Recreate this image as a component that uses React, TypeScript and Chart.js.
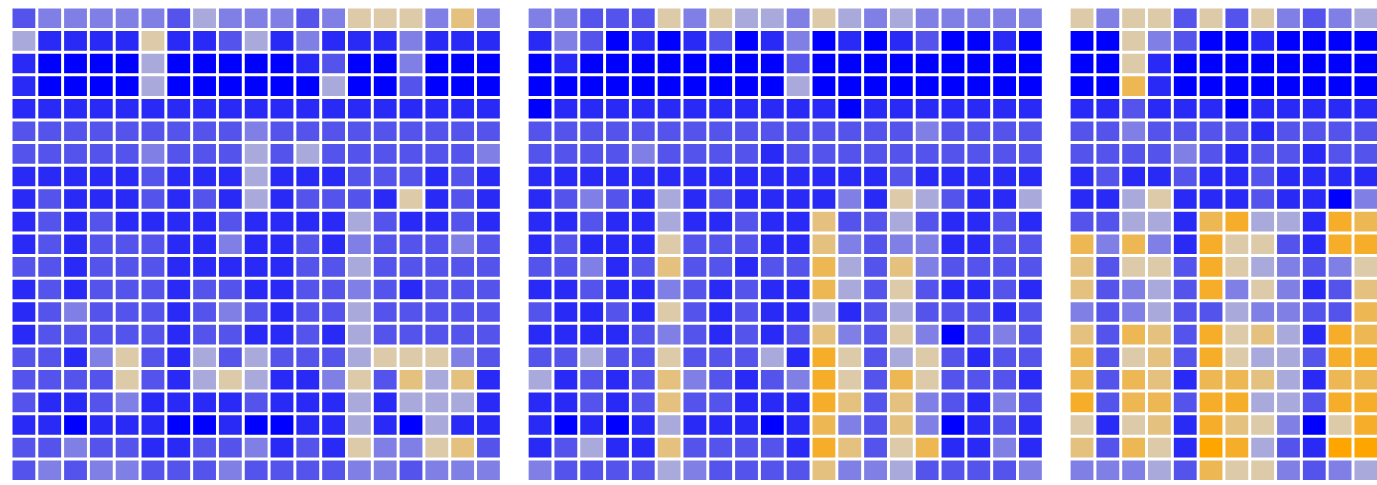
import { useEffect, useRef } from "react";
import { Chart, registerables } from "chart.js";

Chart.register(...registerables);

// Cell values on a diverging scale: -5 = blue, 0 = light grey, +5 = orange
const leftPanel: number[][] = [
  [-3, -2, -2, -2, -2, -2, -3, -1, -2, -2, -2, -3, -2, 1, 1, 1, -2, 2, -2],
  [-1, -4, -4, -4, -4, 1, -4, -4, -3, -1, -4, -2, -4, -4, -4, -2, -4, -4, -4],
  [-4, -5, -5, -5, -5, -1, -5, -5, -5, -5, -5, -4, -3, -5, -5, -2, -5, -5, -5],
  [-4, -5, -5, -5, -5, -1, -5, -5, -5, -5, -5, -5, -1, -5, -5, -3, -5, -5, -5],
  [-4, -4, -4, -4, -4, -4, -4, -4, -4, -4, -4, -4, -4, -4, -4, -4, -4, -4, -4],
  [-3, -3, -3, -3, -3, -3, -3, -3, -3, -2, -3, -3, -3, -3, -3, -3, -3, -3, -3],
  [-3, -3, -3, -3, -3, -2, -3, -3, -3, -1, -3, -1, -3, -3, -3, -3, -3, -3, -2],
  [-4, -4, -4, -4, -4, -3, -4, -4, -4, -1, -4, -4, -4, -3, -3, -3, -4, -3, -4],
  [-4, -3, -4, -4, -4, -3, -4, -3, -4, -1, -4, -3, -3, -3, -4, 1, -4, -3, -4],
  [-4, -3, -4, -3, -4, -4, -4, -4, -3, -4, -4, -4, -4, -1, -3, -4, -4, -3, -4],
  [-4, -3, -4, -3, -3, -3, -4, -4, -2, -4, -4, -3, -4, -2, -3, -3, -3, -2, -3],
  [-3, -3, -4, -3, -3, -3, -4, -4, -4, -4, -4, -3, -3, -1, -3, -3, -3, -3, -3],
  [-4, -3, -4, -3, -3, -3, -4, -3, -3, -4, -4, -3, -3, -2, -3, -4, -3, -3, -3],
  [-4, -3, -2, -3, -3, -3, -4, -3, -2, -3, -4, -3, -3, -1, -3, -3, -3, -3, -3],
  [-4, -3, -3, -3, -3, -3, -4, -3, -3, -4, -4, -3, -4, -1, -3, -3, -3, -3, -3],
  [-3, -3, -4, -2, 1, -3, -4, -1, -3, -1, -3, -3, -3, -1, 1, 1, 1, -2, -3],
  [-3, -3, -3, -3, 1, -3, -4, -1, 1, -1, -4, -4, -2, 1, -3, 2, -1, 2, -4],
  [-3, -4, -4, -3, -2, -4, -4, -4, -4, -3, -4, -4, -4, -1, -4, -1, -1, -1, -4],
  [-4, -4, -5, -4, -4, -4, -5, -5, -4, -5, -5, -4, -4, -1, -4, -5, -1, -4, -4],
  [-3, -3, -2, -3, -3, -4, -4, -3, -3, -2, -4, -3, -4, 1, -2, -2, 1, 2, -3],
  [-3, -2, -3, -2, -2, -3, -3, -3, -2, -3, -3, -3, -3, -2, -2, -3, -2, -2, -2],
];

const middlePanel: number[][] = [
  [-2, -2, -3, -3, -3, 1, -2, 1, -1, -1, -2, 1, -1, -2, -1, -2, -2, -2, -2, -2],
  [-4, -2, -3, -5, -4, -5, -4, -3, -5, -4, -2, -5, -4, -5, -4, -3, -5, -5, -4, -5],
  [-5, -4, -5, -5, -5, -5, -5, -5, -5, -5, -3, -5, -5, -5, -5, -5, -5, -5, -5, -5],
  [-5, -5, -5, -5, -5, -5, -5, -5, -5, -5, -1, -5, -5, -5, -5, -5, -5, -5, -5, -5],
  [-5, -4, -4, -4, -4, -4, -4, -4, -4, -4, -4, -4, -5, -4, -4, -4, -4, -4, -4, -4],
  [-3, -3, -3, -3, -3, -3, -3, -3, -3, -3, -3, -3, -3, -3, -3, -2, -3, -3, -3, -3],
  [-3, -3, -3, -3, -2, -3, -3, -3, -3, -4, -3, -3, -3, -3, -3, -3, -3, -3, -3, -3],
  [-4, -4, -4, -4, -4, -4, -4, -4, -4, -4, -4, -4, -4, -4, -3, -4, -4, -4, -4, -4],
  [-4, -3, -2, -3, -4, -1, -4, -3, -4, -4, -4, -4, -2, -4, 1, -1, -3, -4, -4, -1],
  [-4, -4, -3, -4, -4, -1, -4, -4, -3, -4, -4, 2, -3, -3, -1, -3, -4, -4, -3, -4],
  [-4, -3, -4, -4, -4, 1, -3, -3, -3, -4, -4, 2, -2, -3, -2, -2, -4, -4, -3, -3],
  [-3, -3, -2, -4, -3, 2, -3, -3, -4, -3, -3, 3, -1, -3, 2, -2, -3, -3, -3, -3],
  [-4, -4, -3, -4, -4, -2, -3, -4, -3, -4, -4, 3, -1, -3, 1, -3, -4, -4, -3, -4],
  [-3, -4, -4, -3, -4, 1, -3, -4, -3, -4, -4, -1, -4, -3, -1, -3, -3, -3, -4, -3],
  [-4, -4, -4, -4, -3, -2, -3, -4, -3, -4, -3, 2, -2, -3, 1, -2, -5, -3, -2, -3],
  [-3, -3, -1, -3, -3, 1, -3, -3, -3, -1, -4, 4, 1, -3, -1, 1, -3, -4, -3, -3],
  [-1, -4, -3, -4, -3, 2, -2, -3, -4, -3, -2, 4, 1, -3, 3, 1, -3, -3, -3, -4],
  [-4, -4, -3, -4, -3, 2, -3, -3, -4, -4, -4, 4, 2, -3, 2, -2, -3, -4, -2, -3],
  [-4, -5, -4, -5, -4, -1, -4, -4, -4, -5, -4, 3, -2, -3, 2, -2, -5, -4, -3, -4],
  [-4, -3, -1, -4, -4, 2, -3, -3, -3, -3, -4, 4, 2, -3, 1, 3, -4, -4, -2, -4],
  [-2, -3, -3, -3, -3, -1, -2, -3, -3, -3, -3, 2, -2, -2, -1, -3, -3, -3, -3, -2],
];

const rightPanel: number[][] = [
  [1, -2, 1, 1, -3, 1, -3, 1, -2, -3, -2, -1],
  [-5, -5, 1, -2, -3, -5, -5, -4, -5, -5, -5, -5],
  [-5, -5, 1, -4, -5, -5, -5, -5, -5, -5, -5, -5],
  [-5, -5, 3, -4, -5, -5, -5, -5, -5, -5, -5, -5],
  [-4, -4, -3, -4, -4, -4, -5, -4, -4, -4, -4, -4],
  [-3, -3, -2, -3, -3, -3, -3, -4, -3, -3, -3, -3],
  [-3, -3, -3, -3, -2, -3, -4, -3, -3, -4, -3, -3],
  [-4, -3, -4, -4, -3, -4, -4, -3, -4, -4, -4, -4],
  [-4, -4, -1, 1, -4, -4, -4, -3, -4, -4, -5, -2],
  [-3, -3, -1, -1, -4, 3, 4, -1, -1, -4, 4, 3],
  [3, -2, 3, -2, -4, 4, 1, 1, -3, -4, 4, 4],
  [2, -3, 1, 1, -3, 4, 1, -1, -2, -3, -2, 1],
  [2, -3, -2, -1, -3, 4, -2, 1, -2, -4, -3, 2],
  [-2, -3, -2, -1, -3, -3, -1, -2, -2, -3, -3, 3],
  [2, -3, 3, 2, -3, 4, 1, 2, -1, -4, 4, 3],
  [3, -3, 1, 2, -3, 4, 1, -1, -1, -3, 4, 4],
  [3, -3, 3, 2, -4, 3, 3, 2, -1, -4, 3, 3],
  [4, -3, 3, 3, -3, 4, 4, -1, -1, -3, 4, 4],
  [1, -4, 1, 2, -4, 4, 2, 1, -2, -5, 1, 4],
  [2, -3, 3, 1, -4, 5, 4, -1, -3, -4, 5, 5],
  [-2, -2, -2, -1, -3, 3, 1, 1, -2, -3, -2, -1],
];

const leftColumns = leftPanel[0].map((_, i) => `A${i + 1}`);
const middleColumns = middlePanel[0].map((_, i) => `B${i + 1}`);
const rightColumns = rightPanel[0].map((_, i) => `C${i + 1}`);
const categories = [...leftColumns, "gap1", ...middleColumns, "gap2", ...rightColumns];

const LOW = [0, 0, 255];
const MID = [211, 211, 211];
const HIGH = [255, 165, 0];

function colorFor(v: number): string {
  const from = v <= 0 ? LOW : MID;
  const to = v <= 0 ? MID : HIGH;
  const t = v <= 0 ? (v + 5) / 5 : v / 5;
  const c = from.map((a, i) => Math.round(a + (to[i] - a) * t));
  return `rgb(${c[0]},${c[1]},${c[2]})`;
}

export default function App() {
  const ref = useRef<HTMLCanvasElement | null>(null);

  useEffect(() => {
    if (!ref.current) return;
    const gap = 0.022;
    const datasets = leftPanel.map((_, r) => {
      const row: (number | null)[] = [...leftPanel[r], null, ...middlePanel[r], null, ...rightPanel[r]];
      return {
        label: `row ${r + 1}`,
        data: row.map((v) => (v === null ? null : [r + gap, r + 1 - gap])) as any,
        backgroundColor: row.map((v) => (v === null ? "rgba(0,0,0,0)" : colorFor(v))),
        borderColor: "rgba(255,255,255,0.45)",
        borderWidth: 1,
        borderSkipped: false as const,
        grouped: false,
        barPercentage: 0.962,
        categoryPercentage: 1,
      };
    });
    const chart = new Chart(ref.current, {
      type: "bar",
      data: { labels: categories, datasets },
      options: {
        animation: false,
        responsive: false,
        devicePixelRatio: 1,
        layout: { padding: { left: 11, right: 1.2, top: 7, bottom: 3.5 } },
        plugins: { legend: { display: false }, tooltip: { enabled: false } },
        scales: {
          x: { display: false, grid: { display: false } },
          y: { display: false, min: 0, max: 21, reverse: true, grid: { display: false } },
        },
      },
    });
    return () => chart.destroy();
  }, []);

  return (
    <div style={{ position: "absolute", left: 0, top: 0, width: 1377, height: 485, overflow: "hidden", background: "#fff" }}>
      <canvas ref={ref} width={1380} height={485} style={{ display: "block" }} />
    </div>
  );
}
